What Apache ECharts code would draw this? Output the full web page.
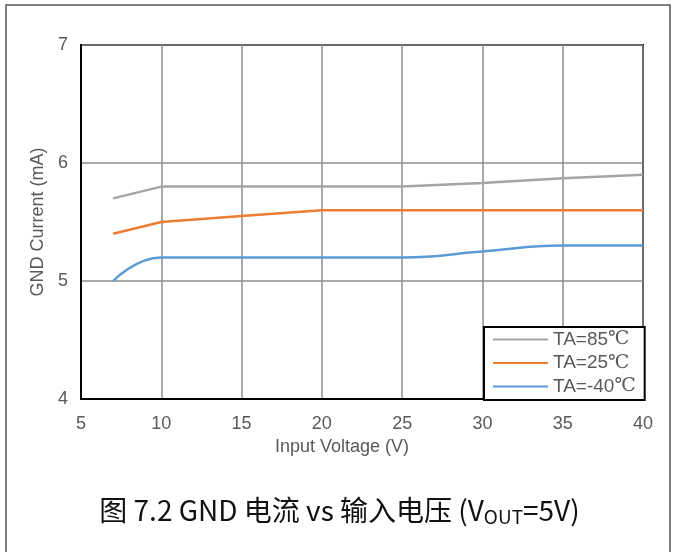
<!DOCTYPE html>
<html>
<head>
<meta charset="utf-8">
<title>GND Current vs Input Voltage</title>
<script src="https://cdn.jsdelivr.net/npm/echarts@6/dist/echarts.min.js"></script>
<style>
  html, body { margin: 0; padding: 0; background: #fff; }
  #chart { width: 679px; height: 552px; }
</style>
</head>
<body>
<div id="chart"></div>
<script>
// Input voltage sample points (V)
var inputVoltage = [7, 10, 15, 20, 25, 30, 35, 40];
// GND current (mA) at each temperature
var currentTA85 = [5.7, 5.8, 5.8, 5.8, 5.8, 5.83, 5.87, 5.9];
var currentTA25 = [5.4, 5.5, 5.55, 5.6, 5.6, 5.6, 5.6, 5.6];
var currentTAm40 = [5.0, 5.2, 5.2, 5.2, 5.2, 5.25, 5.3, 5.3];
var seriesNames = ['TA=85℃', 'TA=25℃', 'TA=-40℃'];
var xTicks = [5, 10, 15, 20, 25, 30, 35, 40];
var yTicks = [4, 5, 6, 7];

function pairs(ys) {
  return inputVoltage.map(function (x, i) { return [x, ys[i]]; });
}

var SANS = "'Liberation Sans', Arial, sans-serif";
var tickFont = { color: '#595959', fontSize: 18, fontFamily: SANS };

var chart = echarts.init(document.getElementById('chart'), null, { renderer: 'canvas' });
chart.setOption({
  backgroundColor: '#fff',
  animation: false,
  title: {
    text: '图 7.2 GND 电流 vs 输入电压 (V{sub|OUT}=5V)',
    left: 'center',
    top: 489,
    textStyle: {
      color: '#111',
      fontSize: 28,
      fontWeight: 'normal',
      fontFamily: "'Noto Sans CJK SC', sans-serif",
      rich: {
        sub: {
          fontSize: 19,
          color: '#111',
          fontFamily: "'Noto Sans CJK SC', sans-serif",
          padding: [13, 0, 0, 0]
        }
      }
    }
  },
  graphic: [{
    type: 'rect',
    shape: { x: 6, y: 5, width: 664, height: 570 },
    style: { fill: 'none', stroke: '#555', lineWidth: 1.5 },
    silent: true,
    z: 0
  }],
  grid: {
    left: 81, top: 45, right: 36, bottom: 153,
    show: true,
    borderColor: '#000',
    borderWidth: 2,
    backgroundColor: 'transparent'
  },
  legend: {
    orient: 'vertical',
    left: 484,
    top: 327,
    data: seriesNames,
    backgroundColor: '#fff',
    borderColor: '#000',
    borderWidth: 2,
    padding: [2, 9, 3, 9],
    itemWidth: 55,
    itemHeight: 14,
    itemGap: 2.5,
    icon: 'path://M0,6 L55,6 L55,8 L0,8 Z',
    formatter: function (name) {
      return name.replace('℃', '{deg|℃}');
    },
    textStyle: {
      color: '#595959',
      fontSize: 19,
      lineHeight: 21,
      fontFamily: SANS,
      rich: {
        deg: { fontSize: 19, lineHeight: 21, color: '#595959', fontFamily: "'Liberation Serif', 'DejaVu Serif', serif" }
      }
    },
    z: 10
  },
  xAxis: {
    type: 'value',
    min: 5, max: 40, interval: 5,
    name: 'Input Voltage (V)',
    nameLocation: 'middle',
    nameGap: 38,
    nameTextStyle: Object.assign({ padding: [0, 40, 0, 0] }, tickFont),
    axisLine: { show: true, lineStyle: { color: '#000', width: 2 } },
    axisTick: { show: false },
    axisLabel: Object.assign({ margin: 16, formatter: function (v) { return xTicks.indexOf(v) >= 0 ? String(v) : ''; } }, tickFont),
    splitLine: { show: true, lineStyle: { color: '#8c8c8c', width: 1.5 } }
  },
  yAxis: {
    type: 'value',
    min: 4, max: 7, interval: 1,
    name: 'GND Current (mA)',
    nameLocation: 'middle',
    nameGap: 26,
    nameRotate: 90,
    nameTextStyle: tickFont,
    axisLine: { show: true, lineStyle: { color: '#000', width: 2 } },
    axisTick: { show: false },
    axisLabel: Object.assign({ margin: 13, formatter: function (v) { return yTicks.indexOf(v) >= 0 ? String(v) : ''; } }, tickFont),
    splitLine: { show: true, lineStyle: { color: '#8c8c8c', width: 1.5 } }
  },
  series: [
    {
      name: seriesNames[0], type: 'line', data: pairs(currentTA85),
      symbol: 'none', color: '#A5A5A5', lineStyle: { width: 2.5, color: '#A5A5A5' }, z: 3
    },
    {
      name: seriesNames[1], type: 'line', data: pairs(currentTA25),
      symbol: 'none', color: '#ED7D31', lineStyle: { width: 2.5, color: '#ED7D31' }, z: 3
    },
    {
      name: seriesNames[2], type: 'line', data: pairs(currentTAm40), smooth: 0.5,
      symbol: 'none', color: '#5B9BD5', lineStyle: { width: 2.5, color: '#5B9BD5' }, z: 3
    }
  ]
});
</script>
</body>
</html>
